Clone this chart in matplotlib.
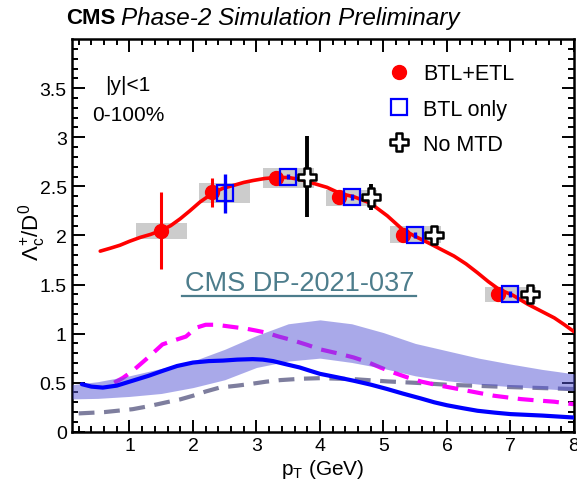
import numpy as np
import matplotlib
matplotlib.use("Agg")
import matplotlib.pyplot as plt
from matplotlib.path import Path
from matplotlib.lines import Line2D

plt.rcParams['font.family'] = ['Liberation Sans', 'DejaVu Sans']
plt.rcParams['mathtext.fontset'] = 'custom'
plt.rcParams['mathtext.rm'] = 'Liberation Sans'
plt.rcParams['mathtext.it'] = 'Liberation Sans:italic'

# ---- measured points ----
btl_etl_x = [1.5, 2.3, 3.3, 4.3, 5.3, 6.8]
btl_etl_y = [2.05, 2.44, 2.58, 2.39, 2.00, 1.40]
btl_etl_err = [0.39, 0.15, 0.05, 0.03, 0.03, 0.02]

btl_only_x = [2.5, 3.5, 4.5, 5.5, 7.0]
btl_only_y = [2.43, 2.60, 2.39, 2.00, 1.40]
btl_only_err = [0.20, 0.03, 0.03, 0.03, 0.03]

no_mtd_x = [3.8, 4.8, 5.8, 7.3]
no_mtd_y = [2.60, 2.39, 2.00, 1.40]
no_mtd_err = [0.41, 0.13, 0.03, 0.03]

# systematic boxes
syst_x = [1.5, 2.5, 3.5, 4.5, 5.5, 7.0]
syst_y = [2.045, 2.435, 2.585, 2.38, 2.01, 1.395]
syst_dy = [0.085, 0.10, 0.10, 0.08, 0.09, 0.075]
syst_dx = 0.4

# fit through BTL+ETL
fit_x = [0.54, 0.7, 0.85, 1.0, 1.17, 1.33, 1.5, 1.65, 1.8, 1.95, 2.11, 2.31, 2.47,
         2.64, 2.8, 2.95, 3.13, 3.31, 3.5, 3.69, 3.9, 4.11, 4.31, 4.55, 4.79, 5.06,
         5.3, 5.5, 5.69, 5.9, 6.11, 6.3, 6.48, 6.65, 6.82, 7.04, 7.27, 7.48, 7.69,
         7.85, 8.0]
fit_y = [1.84, 1.87, 1.90, 1.94, 1.98, 2.01, 2.05, 2.10, 2.17, 2.25, 2.34, 2.43, 2.48,
         2.51, 2.54, 2.56, 2.58, 2.59, 2.59, 2.57, 2.53, 2.49, 2.43, 2.39, 2.33, 2.20,
         2.06, 1.99, 1.93, 1.86, 1.79, 1.71, 1.62, 1.53, 1.45, 1.39, 1.30, 1.23, 1.16,
         1.09, 1.02]

# model curves
blue_x = [0.25, 0.4, 0.58, 0.8, 1.05, 1.3, 1.52, 1.75, 2.0, 2.25, 2.47, 2.7, 2.94,
          3.1, 3.26, 3.45, 3.68, 3.85, 4.0, 4.27, 4.53, 4.8, 5.06, 5.3, 5.585, 5.8,
          6.0, 6.25, 6.48, 6.75, 7.0, 7.5, 8.0]
blue_y = [0.485, 0.46, 0.45, 0.47, 0.52, 0.57, 0.62, 0.67, 0.705, 0.72, 0.725, 0.735,
          0.74, 0.735, 0.72, 0.69, 0.655, 0.62, 0.59, 0.555, 0.52, 0.48, 0.435, 0.39,
          0.34, 0.30, 0.27, 0.24, 0.214, 0.195, 0.18, 0.165, 0.145]

magenta_x = [0.76, 0.9, 1.05, 1.3, 1.52, 1.7, 1.89, 2.05, 2.2, 2.37, 2.6, 2.84, 3.0,
             3.15, 3.35, 3.58, 3.8, 4.0, 4.27, 4.53, 4.75, 4.95, 5.17, 5.38, 5.6,
             5.85, 6.1, 6.32, 6.55, 6.74, 6.95, 7.16, 7.4, 7.69, 8.0]
magenta_y = [0.50, 0.55, 0.62, 0.76, 0.89, 0.93, 0.97, 1.06, 1.09, 1.09, 1.07, 1.05,
             1.03, 1.01, 0.97, 0.93, 0.885, 0.84, 0.80, 0.757, 0.71, 0.655, 0.60,
             0.553, 0.51, 0.475, 0.445, 0.418, 0.39, 0.367, 0.35, 0.333, 0.32, 0.306,
             0.28]

gray_x = [0.2, 0.6, 1.05, 1.3, 1.58, 1.8, 2.0, 2.2, 2.42, 2.7, 2.94, 3.15, 3.37, 3.7,
          4.0, 4.53, 5.06, 5.58, 6.0, 6.48, 7.0, 7.5, 8.0]
gray_y = [0.187, 0.20, 0.23, 0.26, 0.30, 0.33, 0.367, 0.41, 0.45, 0.47, 0.49, 0.51,
          0.526, 0.54, 0.546, 0.536, 0.513, 0.496, 0.479, 0.468, 0.455, 0.445, 0.435]

band_x = [0.1, 0.5, 1.0, 1.5, 2.0, 2.5, 3.0, 3.5, 4.0, 4.5, 5.0, 5.5, 6.0, 6.5, 7.0,
          7.5, 8.0]
band_hi = [0.48, 0.51, 0.57, 0.645, 0.72, 0.84, 0.98, 1.10, 1.14, 1.10, 1.01, 0.90,
           0.825, 0.75, 0.69, 0.635, 0.59]
band_lo = [0.335, 0.34, 0.36, 0.39, 0.45, 0.53, 0.655, 0.72, 0.75, 0.706, 0.645, 0.57,
           0.52, 0.485, 0.46, 0.44, 0.42]

# ---- figure ----
fig = plt.figure(figsize=(5.77, 4.89), dpi=100)
ax = fig.add_axes([0.1253, 0.115, 0.8695, 0.803])

ax.set_xlim(0.1, 8.0)
ax.set_ylim(0, 4.0)

# open-cross marker
a = 0.36
cross = Path([(-a, 1), (a, 1), (a, a), (1, a), (1, -a), (a, -a), (a, -1), (-a, -1),
              (-a, -a), (-1, -a), (-1, a), (-a, a), (-a, 1)], closed=True)

# models
ax.plot(gray_x, gray_y, color='#7e7e9e', lw=3.0, linestyle=(0, (3.8, 2.3)), zorder=2)
ax.plot(magenta_x, magenta_y, color='#ff00ff', lw=3.0, linestyle=(0, (3.8, 2.3)),
        zorder=2)
ax.fill_between(band_x, band_lo, band_hi, color='#5555d5', alpha=0.5, lw=0, zorder=3)
ax.plot(blue_x, blue_y, color='#0000ff', lw=3.0, zorder=4, solid_capstyle='round')

# systematic boxes
for xc, yc, dy in zip(syst_x, syst_y, syst_dy):
    ax.add_patch(plt.Rectangle((xc - syst_dx, yc - dy), 2 * syst_dx, 2 * dy,
                               facecolor='#cccccc', edgecolor='none', zorder=5))

# fit
ax.plot(fit_x, fit_y, color='#ff0000', lw=2.6, zorder=6, solid_capstyle='round')

# points
ax.errorbar(btl_etl_x, btl_etl_y, yerr=btl_etl_err, fmt='o', color='#ff0000',
            ms=10, elinewidth=2.2, capsize=0, zorder=8)
ax.errorbar(btl_only_x, btl_only_y, yerr=btl_only_err, fmt='none', ecolor='#0000ff',
            elinewidth=2.4, capsize=0, zorder=8)
ax.plot(btl_only_x, btl_only_y, 's', ms=11, mfc='none', mec='#0000ff', mew=1.6,
        zorder=9)
ax.errorbar(no_mtd_x, no_mtd_y, yerr=no_mtd_err, fmt='none', ecolor='black',
            elinewidth=2.8, capsize=0, zorder=8)
ax.plot(no_mtd_x, no_mtd_y, linestyle='none', marker=cross, ms=13, mfc='white',
        mec='black', mew=1.8, zorder=9)

# axes styling
for s in ax.spines.values():
    s.set_linewidth(1.8)
ax.set_xticks(np.arange(1, 9, 1))
ax.set_xticks(np.arange(0.2, 8.01, 0.2), minor=True)
ax.set_yticks([0, 0.5, 1, 1.5, 2, 2.5, 3, 3.5])
ax.set_yticklabels(['0', '0.5', '1', '1.5', '2', '2.5', '3', '3.5'])
ax.set_yticks(np.arange(0, 4.0, 0.1), minor=True)
ax.tick_params(which='both', direction='in', top=True, right=True, width=1.4)
ax.tick_params(which='major', length=9, labelsize=14, pad=4)
ax.tick_params(which='minor', length=4.5)

ax.set_xlabel(r'p$_{\mathrm{T}}$ (GeV)', fontsize=15, labelpad=2)
fig.text(0.055, 0.525, r'$\Lambda_{\mathrm{c}}^{+}$/D$^{0}$', rotation=90,
         fontsize=16, ha='center', va='center')

# header
fig.text(0.115, 0.962, 'CMS', fontsize=16, fontweight='bold', ha='left',
         va='center')
fig.text(0.210, 0.962, 'Phase-2 Simulation Preliminary', fontsize=17.5,
         fontstyle='italic', ha='left', va='center')

# annotations
ax.text(0.98, 3.54, '|y|<1', fontsize=15, ha='center', va='center')
ax.text(0.98, 3.23, '0-100%', fontsize=15, ha='center', va='center')
ax.text(3.68, 1.52, 'CMS DP-2021-037', fontsize=19.5, color='#4d7d8c',
        ha='center', va='center', zorder=10)
ax.plot([1.83, 5.51], [1.385, 1.385], color='#4d7d8c', lw=1.6, zorder=10)

# legend
handles = [
    Line2D([], [], linestyle='none', marker='o', ms=10, color='#ff0000'),
    Line2D([], [], linestyle='none', marker='s', ms=11, mfc='none', mec='#0000ff',
           mew=1.6),
    Line2D([], [], linestyle='none', marker=cross, ms=13, mfc='white', mec='black',
           mew=1.8),
]
ax.legend(handles, ['BTL+ETL', 'BTL only', 'No MTD'], loc='upper left',
          bbox_to_anchor=(0.613, 0.96), frameon=False, fontsize=15.5,
          handlelength=1.0, handletextpad=0.6, labelspacing=0.66,
          borderaxespad=0)

fig.savefig('out.png', dpi=100)
